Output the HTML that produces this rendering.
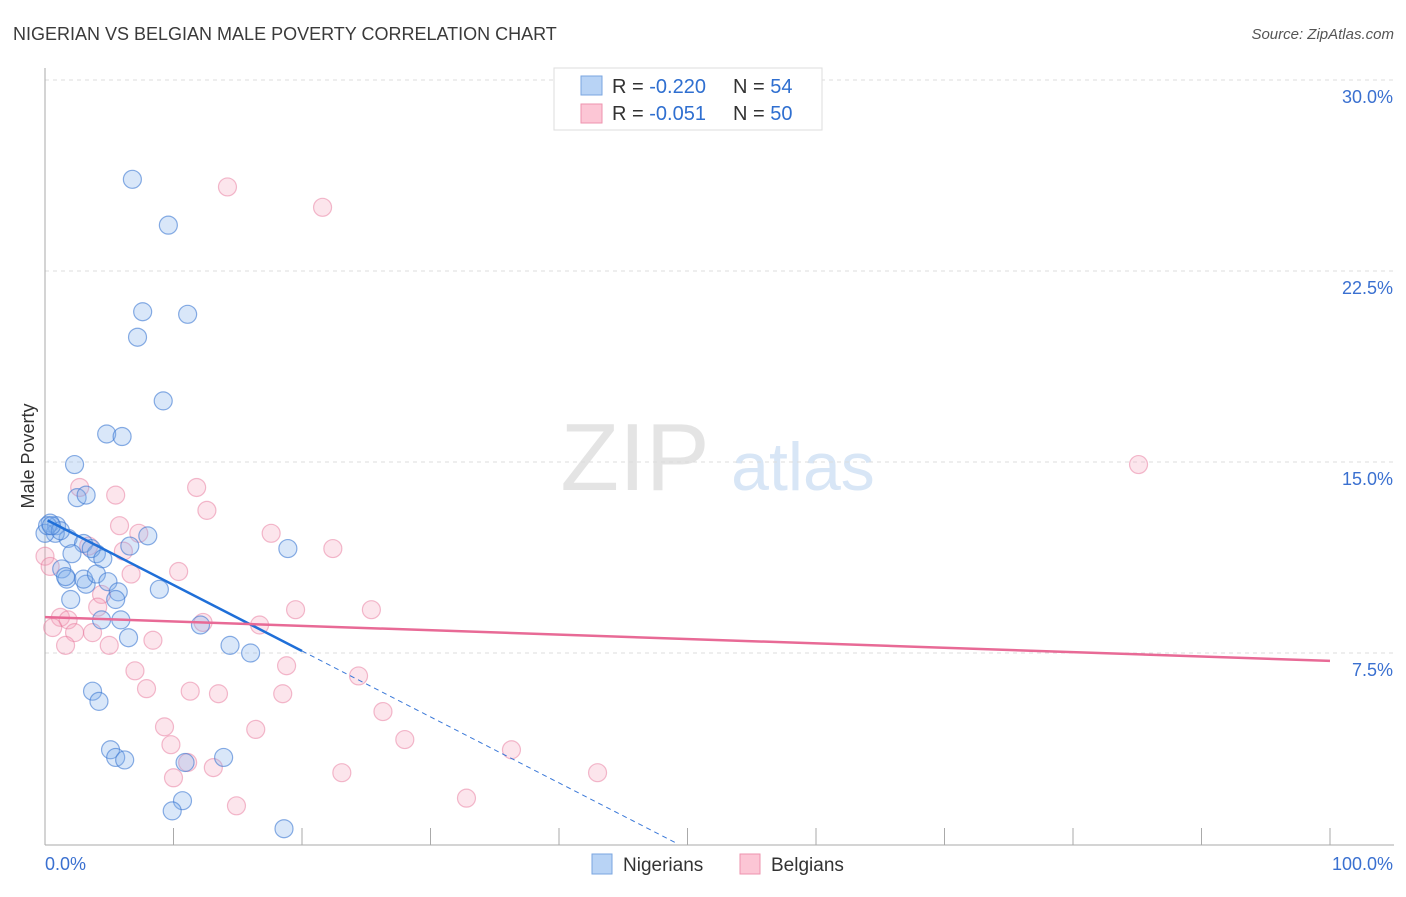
<!DOCTYPE html>
<html><head><meta charset="utf-8"><style>
body{margin:0;background:#fff;font-family:"Liberation Sans",sans-serif;}
svg text{font-family:"Liberation Sans",sans-serif;}
</style></head><body>
<svg id="chart" width="1406" height="892">
<text x="13" y="40" font-size="18" fill="#3a3a3a">NIGERIAN VS BELGIAN MALE POVERTY CORRELATION CHART</text>
<text x="1394" y="39" font-size="15" fill="#555" font-style="italic" text-anchor="end">Source: ZipAtlas.com</text>
<g>
<text x="635" y="490" font-size="96" fill="#e4e4e4" font-family="Liberation Serif,serif" text-anchor="middle">ZIP</text>
<text x="803" y="490" font-size="68" fill="#d8e6f6" text-anchor="middle">atlas</text>
</g>
<g id="grid"></g><g id="axes"></g><g id="pts"></g><g id="lines"></g>
<text transform="translate(34,456) rotate(-90)" font-size="18" fill="#333" text-anchor="middle">Male Poverty</text>
<g>
<rect x="554" y="68" width="268" height="62" fill="#fff" stroke="#ddd"/>
<rect x="581" y="76" width="21" height="19" fill="#b8d3f5" stroke="#7aa6e0"/>
<rect x="581" y="104" width="21" height="19" fill="#fcc6d5" stroke="#ee93ae"/>
<text x="612" y="93" font-size="20" fill="#333">R = <tspan fill="#2f6fd0">-0.220</tspan></text>
<text x="733" y="93" font-size="20" fill="#333">N = <tspan fill="#2f6fd0">54</tspan></text>
<text x="612" y="120" font-size="20" fill="#333">R = <tspan fill="#2f6fd0">-0.051</tspan></text>
<text x="733" y="120" font-size="20" fill="#333">N = <tspan fill="#2f6fd0">50</tspan></text>
</g>
<g>
<rect x="592" y="854" width="20" height="20" fill="#b8d3f5" stroke="#7aa6e0"/>
<text x="623" y="871" font-size="19" fill="#333">Nigerians</text>
<rect x="740" y="854" width="20" height="20" fill="#fcc6d5" stroke="#ee93ae"/>
<text x="771" y="871" font-size="19" fill="#333">Belgians</text>
</g>
</svg>
<script>
const blueX=[6.8,9.6,7.6,11.1,7.2,9.2,4.8,6.0,2.3,2.5,3.2,0.4,0.9,1.8,0.8,3.0,6.6,8.0,18.9,2.1,4.0,3.6,4.5,1.3,1.7,3.2,3.0,4.0,4.9,5.7,5.5,8.9,2.0,4.4,5.9,6.5,12.1,14.4,16.0,3.7,4.2,5.1,5.5,6.2,13.9,10.9,10.7,9.9,18.6,0.0,0.2,1.2,0.5,1.6];
const blueY=[26.1,24.3,20.9,20.8,19.9,17.4,16.1,16.0,14.9,13.6,13.7,12.6,12.5,12.0,12.2,11.8,11.7,12.1,11.6,11.4,11.4,11.6,11.2,10.8,10.4,10.2,10.4,10.6,10.3,9.9,9.6,10.0,9.6,8.8,8.8,8.1,8.6,7.8,7.5,6.0,5.6,3.7,3.4,3.3,3.4,3.2,1.7,1.3,0.6,12.2,12.5,12.3,12.5,10.5];
const pinkX=[14.2,21.6,85.1,11.8,2.7,5.5,12.6,5.8,7.3,17.6,22.4,3.4,6.1,0.0,0.4,10.4,6.7,4.4,4.1,1.2,1.8,19.5,25.4,12.3,16.7,0.6,2.3,3.7,8.4,1.6,5.0,18.8,7.0,24.4,7.9,11.3,13.5,18.5,26.3,9.3,16.4,9.8,28.0,36.3,11.1,13.1,23.1,43.0,10.0,32.8,14.9];
const pinkY=[25.8,25.0,14.9,14.0,14.0,13.7,13.1,12.5,12.2,12.2,11.6,11.7,11.5,11.3,10.9,10.7,10.6,9.8,9.3,8.9,8.8,9.2,9.2,8.7,8.6,8.5,8.3,8.3,8.0,7.8,7.8,7.0,6.8,6.6,6.1,6.0,5.9,5.9,5.2,4.6,4.5,3.9,4.1,3.7,3.2,3.0,2.8,2.8,2.6,1.8,1.5];
const blueTrend=[12.76,-0.259]; // intercept, slope per % x
const pinkTrend=[8.91,-0.0172];
const yTicks=[7.5,15.0,22.5,30.0];
const xTickLabels=["0.0%","100.0%"];
const NS="http://www.w3.org/2000/svg";
const X=v=>45+v*12.85, Y=v=>844-v*191/7.5;
function mk(tag,attrs,parent){const e=document.createElementNS(NS,tag);for(const k in attrs)e.setAttribute(k,attrs[k]);document.getElementById(parent).appendChild(e);return e;}
yTicks.forEach(t=>{
 const g=mk('line',{x1:45,x2:1394,y1:Y(t),y2:Y(t),stroke:'#ddd','stroke-dasharray':'4,4'},'grid');
 
 
 const l=mk('text',{x:1393,y:Y(t)+23,'font-size':18,fill:'#3a70d0','text-anchor':'end'},'grid');
 l.textContent=t.toFixed(1)+'%';
 
 
});
mk('line',{x1:45,x2:45,y1:68,y2:845,stroke:'#aaa'},'axes');
mk('line',{x1:45,x2:1394,y1:845,y2:845,stroke:'#aaa'},'axes');
for(let i=1;i<=10;i++){mk('line',{x1:X(i*10),x2:X(i*10),y1:828,y2:845,stroke:'#aaa'},'axes');}
const xl0=mk('text',{x:45,y:870,'font-size':18,fill:'#3a70d0'},'axes');xl0.textContent=xTickLabels[0];


const xl1=mk('text',{x:1393,y:870,'font-size':18,fill:'#3a70d0','text-anchor':'end'},'axes');xl1.textContent=xTickLabels[1];


pinkX.forEach((x,i)=>{const c=mk('circle',{cx:X(x),cy:Y(pinkY[i]),r:9,fill:'rgba(246,160,185,0.28)',stroke:'rgba(232,120,155,0.5)','stroke-width':1.2},'pts');
 
 });
blueX.forEach((x,i)=>{const c=mk('circle',{cx:X(x),cy:Y(blueY[i]),r:9,fill:'rgba(130,175,235,0.3)',stroke:'rgba(60,120,210,0.6)','stroke-width':1.2},'pts');
 
 });
const bt=x=>blueTrend[0]+blueTrend[1]*x, pt=x=>pinkTrend[0]+pinkTrend[1]*x;
const xEnd=-blueTrend[0]/blueTrend[1];
const bd=mk('line',{x1:X(20),y1:Y(bt(20)),x2:X(xEnd),y2:Y(0),stroke:'#3a78d8','stroke-width':1,'stroke-dasharray':'5,4'},'lines');


const bl=mk('line',{x1:X(0.2),y1:Y(bt(0.2)),x2:X(20),y2:Y(bt(20)),stroke:'#1f6fd8','stroke-width':2.5},'lines');


const pl=mk('line',{x1:X(0),y1:Y(pt(0)),x2:X(100),y2:Y(pt(100)),stroke:'#e86a96','stroke-width':2.5},'lines');


</script>
</body></html>
